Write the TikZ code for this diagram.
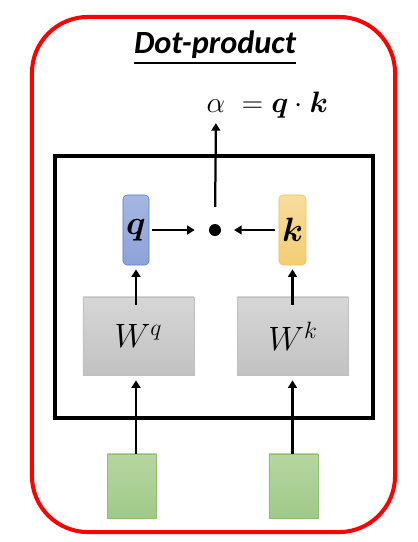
\RequirePackage{fix-cm}
\documentclass[tikz,border=0pt]{standalone}
\usepackage{amsmath}
\usepackage{fontspec}
\newfontfamily\titlefont{Carlito}
\usetikzlibrary{arrows.meta,positioning}

\definecolor{qline}{HTML}{5B7BC8}
\definecolor{kline}{HTML}{F2C14E}
\definecolor{inline}{HTML}{8FC070}

\begin{document}
\begin{tikzpicture}[
  x=0.025cm, y=-0.025cm,
  vec/.style={rounded corners=1mm, inner sep=0pt, minimum width=6.5mm, minimum height=17.5mm, font=\fontsize{24}{28}\selectfont},
  weight/.style={draw=black!25, top color=black!16, bottom color=black!24, inner sep=0pt, minimum width=27.75mm, minimum height=19.5mm, font=\fontsize{24}{28}\selectfont},
  inbox/.style={draw=inline, top color=inline!65, bottom color=inline!85, inner sep=0pt, minimum width=12.25mm, minimum height=16mm},
  arrow/.style={-{Triangle[length=1.9mm,width=2.2mm]}, line width=1.6pt}
]
\useasboundingbox (0,0) rectangle (417,542);

\node[draw=red, line width=1mm, rounded corners=14mm, minimum width=90.75mm, minimum height=128.75mm] (outer) at (213.5,274.5) {};
\node[anchor=base, inner sep=0pt, font=\titlefont\fontsize{23}{27}\selectfont\bfseries\itshape] (title) at (215,53) {\underline{Dot-product}};

\node[draw, line width=1mm, minimum width=79.5mm, minimum height=65.5mm] (frame) at (214,287) {};

\node[anchor=base, inner sep=0pt, font=\fontsize{21}{25}\selectfont] (alpha) at (216,112) {$\alpha$};
\node[base right=4mm of alpha, inner sep=0pt, font=\fontsize{21}{25}\selectfont] (prod) {$=\boldsymbol{q}\cdot\boldsymbol{k}$};

\node[vec, draw=qline, top color=qline!55, bottom color=qline!70] (q) at (136,230) {$\boldsymbol{q}$};
\node[vec, draw=kline, top color=kline!55, bottom color=kline!80, minimum width=6.75mm] (k) at (292.5,230) {$\boldsymbol{k}$};
\node[circle, fill, inner sep=0pt, minimum size=3mm] (dot) at (215,230) {};

\node[weight] (wq) at (138.5,336) {$W^q$};
\node[weight] (wk) at (293,336) {$W^k$};

\node[inbox] (inq) at (132,486) {};
\node[inbox] (ink) at (293.5,486) {};

\draw[arrow, shorten <=0.6mm, shorten >=3.5mm] (q.east) -- (dot.west);
\draw[arrow, shorten <=1mm, shorten >=3.2mm] (k.west) -- (dot.east);
\draw[arrow, shorten <=4.2mm, shorten >=2.7mm] (dot.north) -- (alpha.south);

\draw[arrow, shorten <=-2mm, shorten >=1mm] (wq.north -| q) -- (q.south);
\draw[arrow, shorten <=-2mm, shorten >=1mm] (wk.north -| k) -- (k.south);
\draw[arrow, shorten >=1.25mm] (inq.north -| q) -- (wq.south -| q);
\draw[arrow, shorten >=1.25mm] (ink.north -| k) -- (wk.south -| k);

\end{tikzpicture}
\end{document}
